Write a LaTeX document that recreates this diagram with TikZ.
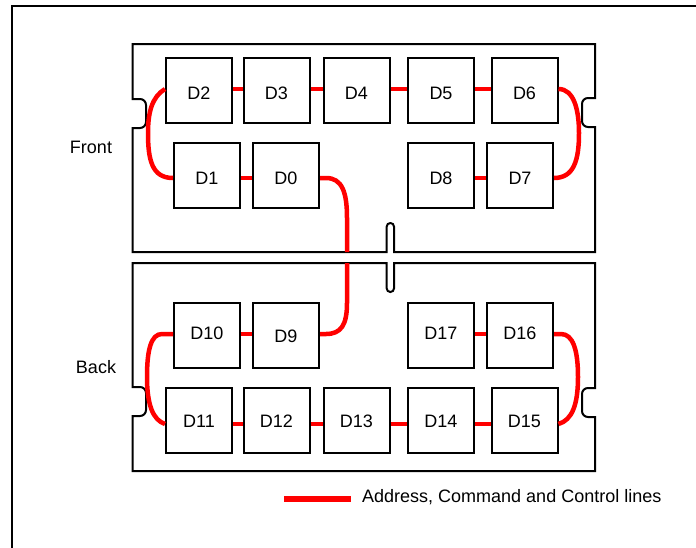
\documentclass[tikz,border=0pt]{standalone}
\usepackage{fontspec}
\setmainfont{Liberation Sans}
\begin{document}
\begin{tikzpicture}[x=1pt,y=-1pt,
  chip/.style={draw=black,line width=2pt,minimum width=66pt,minimum height=65pt,inner sep=0pt,font=\fontsize{18}{21}\selectfont},
  chipfront/.style={chip,text height=18.5pt,text depth=0pt},
  chipbacka/.style={chip,text height=13pt,text depth=5pt},
  chipbackb/.style={chip,text height=13pt,text depth=0pt},
  lbl/.style={font=\fontsize{18}{21}\selectfont,inner sep=0pt},
  module/.style={draw=black,line width=2pt},
  bus/.style={draw=red,line width=4.5pt}]
\useasboundingbox (0,0) rectangle (696,547);
% outer frame
\draw[line width=2pt] (12,560) -- (12,6) -- (710,6);
% front module
\draw[module] (132.7,44) -- (595,44) -- (595,98)
  {[rounded corners=6pt] -- (582,98) -- (582,127)} -- (595,127) -- (595,252)
  -- (394,252) {[rounded corners=3.6pt] -- (394,223) -- (386.7,223)} -- (386.7,252)
  -- (132.7,252) -- (132.7,128) {[rounded corners=6pt] -- (146,128) -- (146,99)} -- (132.7,99) -- cycle;
% back module
\draw[module] (132.7,263) -- (386.7,263) {[rounded corners=3.6pt] -- (386.7,292) -- (394,292)} -- (394,263)
  -- (595,263) -- (595,388) {[rounded corners=6pt] -- (582,388) -- (582,417)} -- (595,417) -- (595,471)
  -- (132.7,471) -- (132.7,416) {[rounded corners=6pt] -- (146,416) -- (146,387)} -- (132.7,387) -- cycle;
% chips front
\node[chipfront] (D2) at (199,90.5) {D2};
\node[chipfront] (D3) at (276.5,90.5) {D3};
\node[chipfront] (D4) at (356.5,90.5) {D4};
\node[chipfront] (D5) at (441,90.5) {D5};
\node[chipfront] (D6) at (524.5,90.5) {D6};
\node[chipfront] (D1) at (207,175.5) {D1};
\node[chipfront] (D0) at (286,175.5) {D0};
\node[chipfront] (D8) at (441,175.5) {D8};
\node[chipfront] (D7) at (520,175.5) {D7};
% chips back
\node[chipbacka] (D10) at (207,335.5) {D10};
\node[chipbackb] (D9) at (286,335.5) {D9};
\node[chipbacka] (D17) at (441,335.5) {D17};
\node[chipbacka] (D16) at (520,335.5) {D16};
\node[chipbackb] (D11) at (199,420.5) {D11};
\node[chipbackb] (D12) at (276.5,420.5) {D12};
\node[chipbackb] (D13) at (356.5,420.5) {D13};
\node[chipbackb] (D14) at (441,420.5) {D14};
\node[chipbackb] (D15) at (524.5,420.5) {D15};
% labels
\node[lbl] (front) at (91,147) {Front};
\node[lbl] (back) at (96,367) {Back};
% straight bus segments
\draw[bus] ([yshift=1.5pt]D2.east) -- ([yshift=1.5pt]D3.west);
\draw[bus] ([yshift=1.5pt]D3.east) -- ([yshift=1.5pt]D4.west);
\draw[bus] ([yshift=1.5pt]D4.east) -- ([yshift=1.5pt]D5.west);
\draw[bus] ([yshift=1.5pt]D5.east) -- ([yshift=1.5pt]D6.west);
\draw[bus] ([yshift=-2.5pt]D1.east) -- ([yshift=-2.5pt]D0.west);
\draw[bus] ([yshift=-2.5pt]D8.east) -- ([yshift=-2.5pt]D7.west);
\draw[bus] ([yshift=1.5pt]D10.east) -- ([yshift=1.5pt]D9.west);
\draw[bus] ([yshift=1.5pt]D17.east) -- ([yshift=1.5pt]D16.west);
\draw[bus] ([yshift=-3.5pt]D11.east) -- ([yshift=-3.5pt]D12.west);
\draw[bus] ([yshift=-3.5pt]D12.east) -- ([yshift=-3.5pt]D13.west);
\draw[bus] ([yshift=-3.5pt]D13.east) -- ([yshift=-3.5pt]D14.west);
\draw[bus] ([yshift=-3.5pt]D14.east) -- ([yshift=-3.5pt]D15.west);
% curved bus segments
\draw[bus] ([yshift=1.5pt]D2.west) .. controls (152,97) and (148,112) .. (148,133)
  .. controls (148,160) and (152,178) .. ([yshift=-2.5pt]D1.west);
\draw[bus] ([yshift=1.5pt]D6.east) .. controls (574,89) and (579,110) .. (579,133)
  .. controls (579,160) and (574,178) .. ([yshift=-2.5pt]D7.east);
\coordinate (fb) at (347,252);
\coordinate (bt) at (347,263);
\draw[bus] ([yshift=-2.5pt]D0.east) -- (326,178) .. controls (342,178) and (347,192) .. (347,218) -- (fb);
\draw[bus] (bt) -- (347,303) .. controls (347,325) and (341,334) .. (326,334) -- ([yshift=1.5pt]D9.east);
\draw[bus] ([yshift=1.5pt]D10.west) -- (162,334) .. controls (151,334) and (147,350) .. (147,377)
  .. controls (147,405) and (153,420) .. ([yshift=-3.5pt]D11.west);
\draw[bus] ([yshift=1.5pt]D16.east) -- (561,334) .. controls (573,334) and (578,350) .. (578,377)
  .. controls (578,405) and (572,420) .. ([yshift=-3.5pt]D15.east);
% legend
\coordinate (la) at (284,499);
\coordinate (lb) at (351,499);
\draw[red,line width=5.5pt] (la) -- (lb);
\node[lbl,anchor=west] (legend) at (362,497) {Address, Command and Control lines};
\end{tikzpicture}
\end{document}
